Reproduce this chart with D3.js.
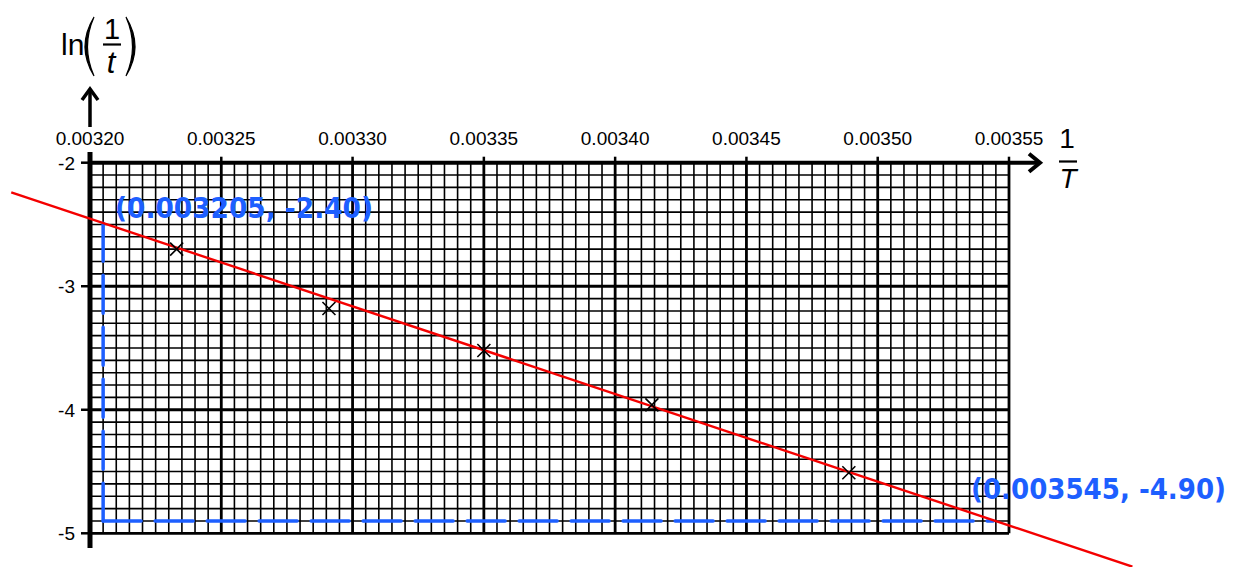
<!DOCTYPE html>
<html>
<head>
<meta charset="utf-8">
<script src="https://cdn.jsdelivr.net/npm/d3@7"></script>
<style>
  html, body { margin: 0; padding: 0; background: #fff; }
  svg { display: block; font-family: "Liberation Sans", Arial, sans-serif; }
</style>
</head>
<body>
<svg id="chart" width="1242" height="567"></svg>
<script>
// measured points (1/T, ln(1/t))
const invT = [0.003233, 0.003291, 0.003350, 0.003414, 0.003489];
const lnInvt = [-2.70, -3.18, -3.52, -3.96, -4.51];

// best-fit line, drawn end to end
const fitX = [0.003170, 0.003597];
const fitY = [-2.24, -5.27];

// gradient read-off points
const readX = [0.003205, 0.003544];
const readY = [-2.49, -4.90];
const readLabels = ["(0.003205, -2.40)", "(0.003545, -4.90)"];

const xTicks = [0.00320, 0.00325, 0.00330, 0.00335, 0.00340, 0.00345, 0.00350, 0.00355];
const xTickLabels = ["0.00320", "0.00325", "0.00330", "0.00335", "0.00340", "0.00345", "0.00350", "0.00355"];
const yTicks = [-2, -3, -4, -5];
const yTickLabels = ["-2", "-3", "-4", "-5"];

const svg = d3.select("#chart");
const blue = "#1d5fff";

const x = d3.scaleLinear().domain([0.00320, 0.00355]).range([90, 1009]);
const y = d3.scaleLinear().domain([-2, -5]).range([162.7, 533.3]);

const [x0, x1] = x.domain();
const [y0, y1] = y.domain();

// graph paper
const grid = svg.append("g");
const minorX = d3.range(0, 71).map(i => x0 + i * 0.000005);
const minorY = d3.range(0, 31).map(i => y0 - i * 0.1);

grid.selectAll(".vx").data(minorX).enter().append("line")
    .attr("x1", d => x(d)).attr("x2", d => x(d))
    .attr("y1", y(y0)).attr("y2", y(y1))
    .attr("stroke", "#000")
    .attr("stroke-width", (d, i) => i % 10 === 0 ? 2.8 : 1.6);

grid.selectAll(".hy").data(minorY).enter().append("line")
    .attr("x1", x(x0)).attr("x2", x(x1))
    .attr("y1", d => y(d)).attr("y2", d => y(d))
    .attr("stroke", "#000")
    .attr("stroke-width", (d, i) => i % 10 === 0 ? 2.8 : 1.6);

// axes
const axes = svg.append("g").attr("stroke", "#000").attr("fill", "none");
axes.append("line")
    .attr("x1", x(x0) - 2).attr("x2", 1039)
    .attr("y1", y(y0)).attr("y2", y(y0))
    .attr("stroke-width", 4);
axes.append("path")
    .attr("d", `M1029,${y(y0) - 9} L1040,${y(y0)} L1029,${y(y0) + 9}`)
    .attr("stroke-width", 4).attr("stroke-linejoin", "miter");
axes.append("line")
    .attr("x1", x(x0)).attr("x2", x(x0))
    .attr("y1", 152).attr("y2", 548)
    .attr("stroke-width", 5);

// upward arrow for ln(1/t)
axes.append("line")
    .attr("x1", x(x0)).attr("x2", x(x0))
    .attr("y1", 127).attr("y2", 90)
    .attr("stroke-width", 3.5);
axes.append("path")
    .attr("d", `M${x(x0) - 8},100 L${x(x0)},89 L${x(x0) + 8},100`)
    .attr("stroke-width", 3.5);

axes.selectAll(".xt").data(xTicks).enter().append("line")
    .attr("x1", d => x(d)).attr("x2", d => x(d))
    .attr("y1", y(y0) - 6).attr("y2", y(y0))
    .attr("stroke-width", 2.5);
axes.selectAll(".yt").data(yTicks).enter().append("line")
    .attr("x1", x(x0) - 9).attr("x2", x(x0))
    .attr("y1", d => y(d)).attr("y2", d => y(d))
    .attr("stroke-width", 2.5);

svg.selectAll(".xl").data(xTicks).enter().append("text")
    .attr("x", d => x(d)).attr("y", 145)
    .attr("text-anchor", "middle")
    .attr("font-size", 19)
    .text((d, i) => xTickLabels[i]);
svg.selectAll(".yl").data(yTicks).enter().append("text")
    .attr("x", 75).attr("y", d => y(d))
    .attr("dy", "0.36em")
    .attr("text-anchor", "end")
    .attr("font-size", 19)
    .text((d, i) => yTickLabels[i]);

// axis titles
const yt = svg.append("g");
yt.append("text").attr("x", 61).attr("y", 55).attr("font-size", 30).text("ln");
yt.append("path").attr("d", "M94,17 Q76,46.5 94,76 Q81,46.5 94,17 Z").attr("fill", "#000").attr("stroke", "#000").attr("stroke-width", 1.2);
yt.append("path").attr("d", "M126,17 Q144,46.5 126,76 Q139,46.5 126,17 Z").attr("fill", "#000").attr("stroke", "#000").attr("stroke-width", 1.2);
yt.append("text").attr("x", 112).attr("y", 39).attr("text-anchor", "middle").attr("font-size", 29).text("1");
yt.append("line").attr("x1", 103).attr("x2", 121).attr("y1", 44.5).attr("y2", 44.5).attr("stroke", "#000").attr("stroke-width", 2.2);
yt.append("text").attr("x", 111).attr("y", 73).attr("text-anchor", "middle").attr("font-size", 31).attr("font-style", "italic").text("t");

const xt = svg.append("g");
xt.append("text").attr("x", 1067).attr("y", 148).attr("text-anchor", "middle").attr("font-size", 28).text("1");
xt.append("line").attr("x1", 1059).attr("x2", 1077).attr("y1", 161.5).attr("y2", 161.5).attr("stroke", "#000").attr("stroke-width", 2.2);
xt.append("text").attr("x", 1068).attr("y", 188).attr("text-anchor", "middle").attr("font-size", 28).attr("font-style", "italic").text("T");

// read-off construction lines
const dash = svg.append("g").attr("stroke", blue).attr("stroke-width", 3.5)
    .attr("fill", "none").attr("stroke-linecap", "round").attr("stroke-dasharray", "38,14");
dash.append("path")
    .attr("d", d3.line()([[x(readX[0]), y(readY[0])], [x(readX[0]), y(readY[1])]]));
dash.append("path")
    .attr("d", d3.line()([[x(readX[0]), y(readY[1])], [x(readX[1]), y(readY[1])]]));

// best-fit line
svg.append("path")
    .attr("d", d3.line().x(d => x(d[0])).y(d => y(d[1]))(fitX.map((v, i) => [v, fitY[i]])))
    .attr("stroke", "#f40000").attr("stroke-width", 2.4).attr("fill", "none");

// data crosses
svg.selectAll(".pt").data(invT).enter().append("path")
    .attr("d", (d, i) => {
        const cx = x(d), cy = y(lnInvt[i]), s = 6.5;
        return `M${cx - s},${cy - s}L${cx + s},${cy + s}M${cx - s},${cy + s}L${cx + s},${cy - s}`;
    })
    .attr("stroke", "#000").attr("stroke-width", 1.6).attr("fill", "none");

// handwritten coordinates
svg.append("text")
    .attr("x", 115).attr("y", 218)
    .attr("font-family", "'DejaVu Sans Condensed', 'DejaVu Sans', sans-serif")
    .attr("font-weight", "bold")
    .attr("font-size", 29).attr("fill", blue)
    .attr("textLength", 258).attr("lengthAdjust", "spacingAndGlyphs")
    .text(readLabels[0]);
svg.append("text")
    .attr("x", 971).attr("y", 499)
    .attr("font-family", "'DejaVu Sans Condensed', 'DejaVu Sans', sans-serif")
    .attr("font-weight", "bold")
    .attr("font-size", 29).attr("fill", blue)
    .attr("textLength", 255).attr("lengthAdjust", "spacingAndGlyphs")
    .text(readLabels[1]);
</script>
</body>
</html>
